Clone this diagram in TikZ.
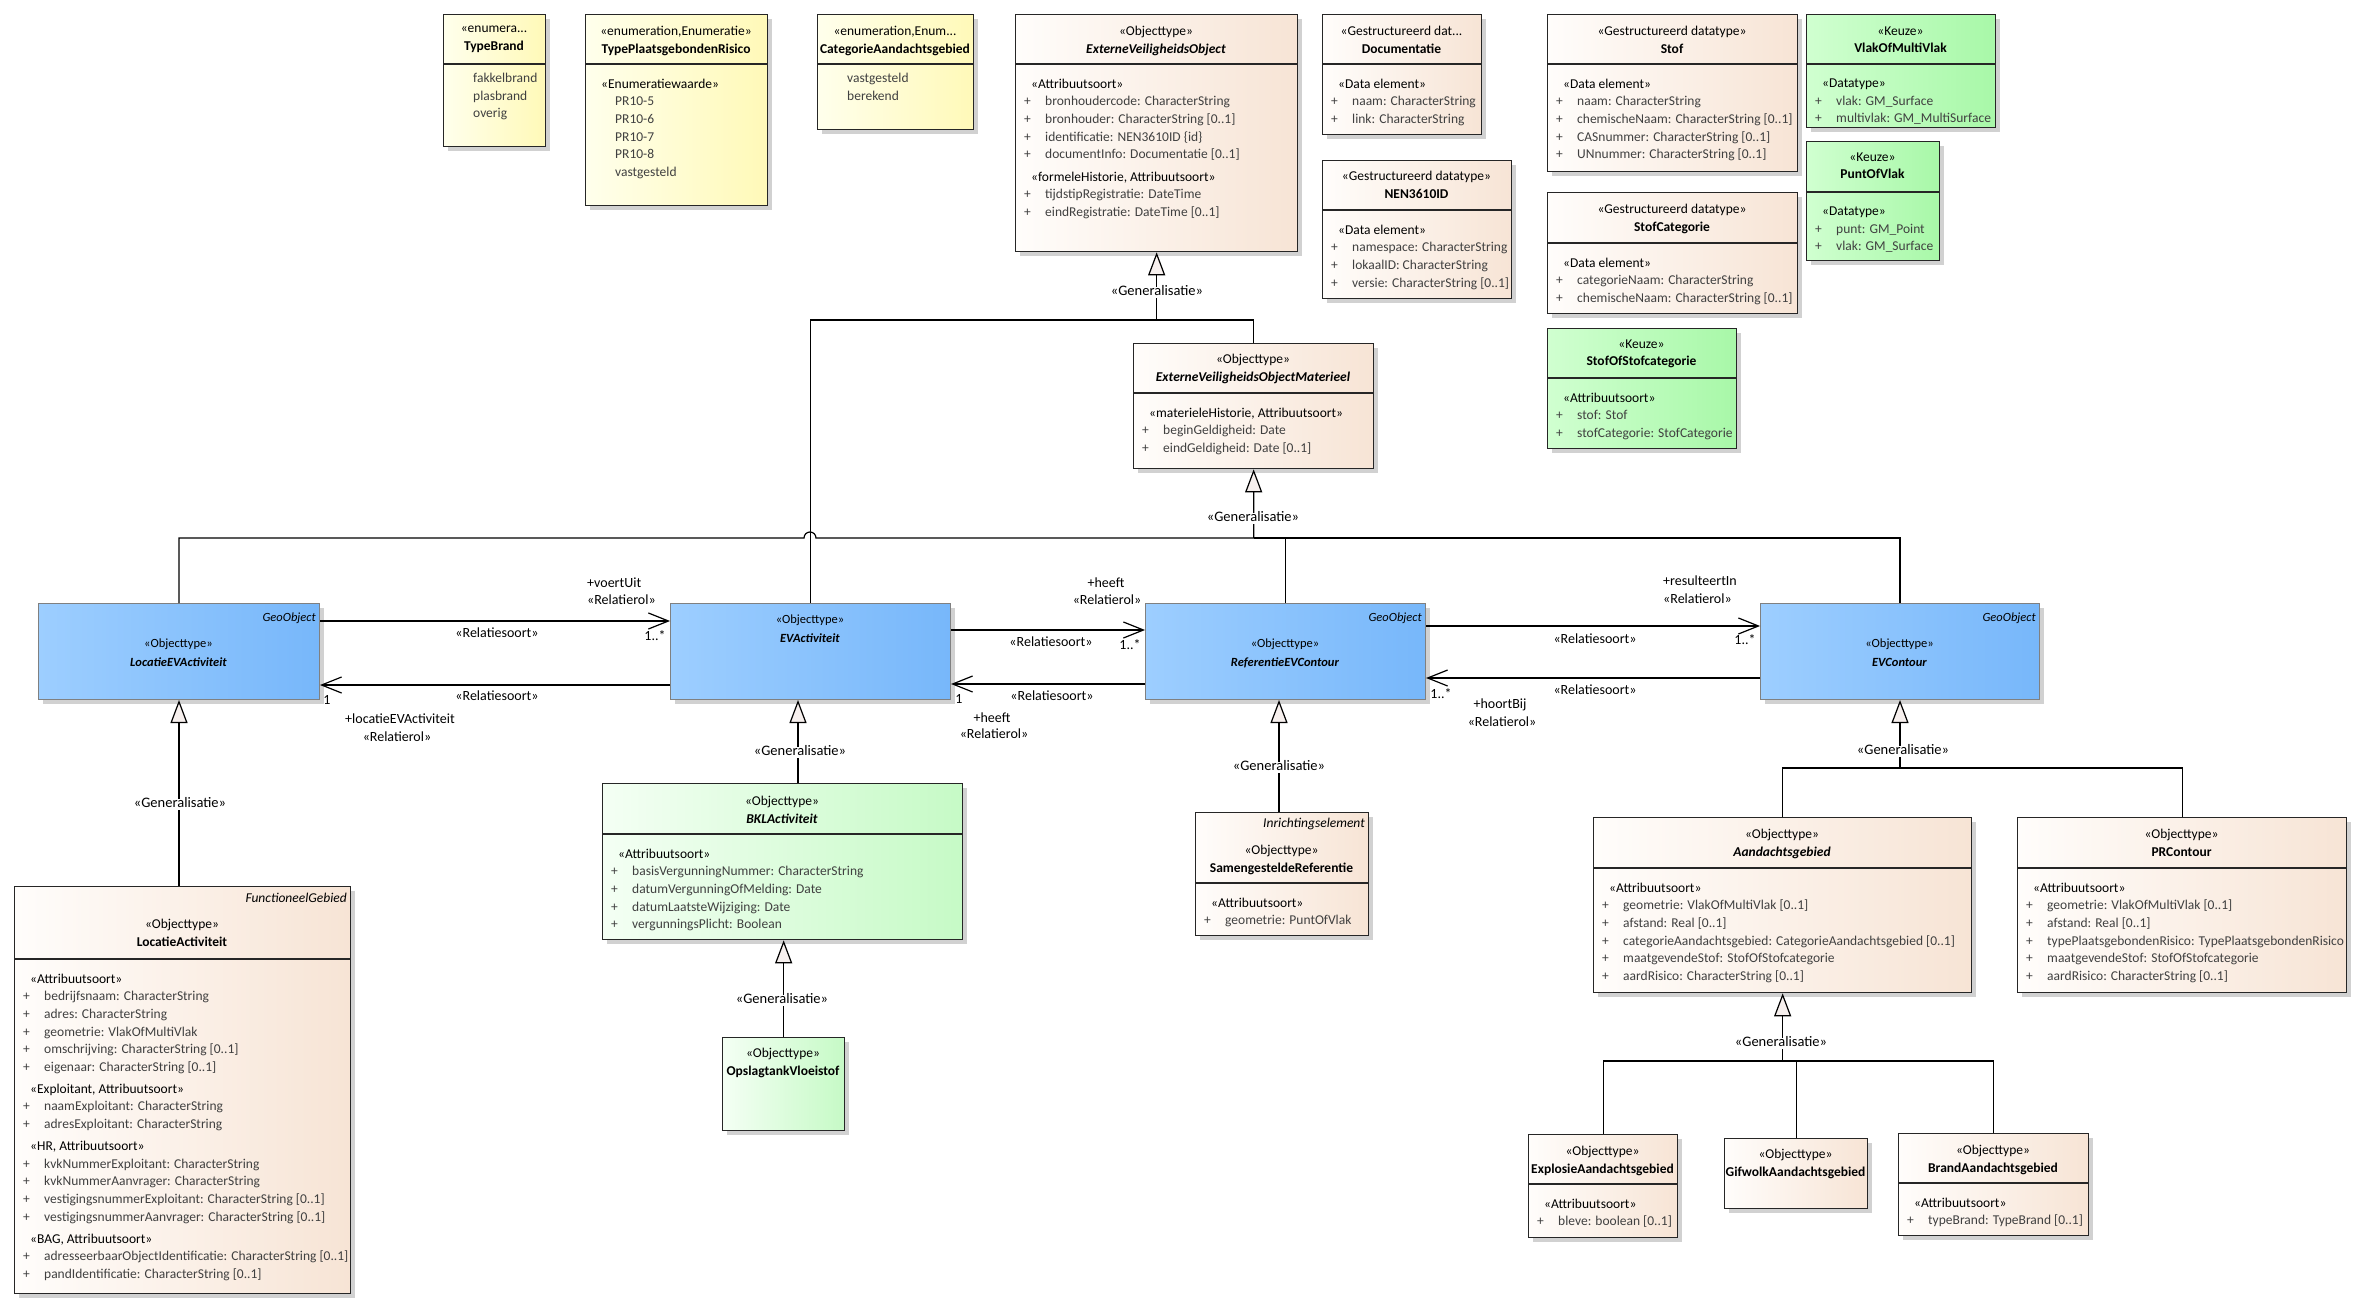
\documentclass[tikz,border=0pt]{standalone}
\usepackage{fontspec}
\setmainfont{Carlito}
\usetikzlibrary{arrows.meta,shadows}

\definecolor{enumL}{RGB}{255,255,236}
\definecolor{enumR}{RGB}{255,249,184}
\definecolor{peachL}{RGB}{255,253,251}
\definecolor{peachR}{RGB}{247,228,213}
\definecolor{keuzeL}{RGB}{208,255,208}
\definecolor{keuzeR}{RGB}{168,248,168}
\definecolor{bklL}{RGB}{244,255,244}
\definecolor{bklR}{RGB}{198,250,198}
\definecolor{blueL}{RGB}{157,206,255}
\definecolor{blueR}{RGB}{119,183,250}
\definecolor{genfill}{RGB}{247,240,238}

\newcommand{\umlfont}{\fontsize{13.5}{17.6}\selectfont}
\newcommand{\geofont}{\fontsize{12.5}{19}\selectfont}
\newcommand{\lblfont}{\fontsize{14}{15}\selectfont}
\newcommand{\genfont}{\fontsize{14.5}{15}\selectfont}
\newcommand{\stp}[1]{\hspace*{7pt}\textcolor{black}{#1}}
\newcommand{\atr}[1]{\makebox[21pt][l]{+}#1}
\newcommand{\lit}[1]{\hspace*{21pt}#1}
\newcommand{\nm}[1]{\textbf{#1}}
\newcommand{\nmi}[1]{\textbf{\textit{#1}}}

\begin{document}
\begin{tikzpicture}[x=1pt, y=-1pt,
    box/.style={draw=black!85, line width=1.3pt, anchor=north west, inner sep=0pt,
        drop shadow={shadow xshift=4pt, shadow yshift=-4pt, fill=black!18, opacity=1}},
    enumbox/.style={box, left color=enumL, right color=enumR},
    peachbox/.style={box, left color=peachL, right color=peachR},
    keuzebox/.style={box, left color=keuzeL, right color=keuzeR},
    bklbox/.style={box, left color=bklL, right color=bklR},
    geobox/.style={box, draw=black!50, line width=1pt, left color=blueL, right color=blueR},
    sep/.style={draw=black!85, line width=1.3pt},
    hdr/.style={inner sep=0pt, anchor=north, align=center, font=\umlfont, yshift=-4.5pt, execute at begin node=\strut},
    geohdr/.style={hdr, font=\geofont},
    tag/.style={inner sep=0pt, anchor=north east, font=\umlfont\itshape, yshift=-1.5pt, execute at begin node=\strut},
    geotag/.style={tag, font=\geofont\itshape},
    body/.style={inner sep=0pt, anchor=north west, align=left, font=\umlfont, text=black!75, yshift=-4.5pt, execute at begin node=\strut},
    lbl/.style={inner sep=0pt, font=\lblfont, text height=8.5pt, text depth=2.5pt},
    genlbl/.style={lbl, font=\genfont, fill=white, inner xsep=1pt},
    conn/.style={line width=1.2pt},
    gen/.style={conn, -{Triangle[length=23pt, width=17pt, fill=genfill]}},
    assoc/.style={conn, -{Straight Barb[length=20pt, width=16pt]}}]
        \useasboundingbox (0,0) rectangle (2371,1313);

        \node[enumbox, minimum width=102pt, minimum height=132pt] (tbrand) at (443,14) {};
        \draw[sep] (tbrand.west |- 0,64) -- (tbrand.east |- 0,64);
        \node[hdr] (tbrand-h) at (494,21.7) {«enumera...\\\nm{TypeBrand}};
        \node[body] (tbrand-b) at (452,68.7) {\lit{fakkelbrand}\\\lit{plasbrand}\\\lit{overig}};

        \node[enumbox, minimum width=182pt, minimum height=191pt] (tpr) at (585,14) {};
        \draw[sep] (tpr.west |- 0,64) -- (tpr.east |- 0,64);
        \node[hdr] (tpr-h) at (676,21.7) {«enumeration,Enumeratie»\\\nm{TypePlaatsgebondenRisico}};
        \node[body] (tpr-b) at (594,74.2) {\stp{«Enumeratiewaarde»}\\\lit{PR10-5}\\\lit{PR10-6}\\\lit{PR10-7}\\\lit{PR10-8}\\\lit{vastgesteld}};

        \node[enumbox, minimum width=156pt, minimum height=115pt] (cag) at (817,14) {};
        \draw[sep] (cag.west |- 0,64) -- (cag.east |- 0,64);
        \node[hdr] (cag-h) at (895,21.7) {«enumeration,Enum...\\\nm{CategorieAandachtsgebied}};
        \node[body] (cag-b) at (826,68.7) {\lit{vastgesteld}\\\lit{berekend}};

        \node[peachbox, minimum width=282pt, minimum height=237pt] (evo) at (1015,14) {};
        \draw[sep] (evo.west |- 0,64) -- (evo.east |- 0,64);
        \node[hdr] (evo-h) at (1156,21.7) {«Objecttype»\\\nmi{ExterneVeiligheidsObject}};
        \node[body] (evo-b) at (1024,74.2) {\stp{«Attribuutsoort»}\\\atr{bronhoudercode: CharacterString}\\\atr{bronhouder: CharacterString [0..1]}\\\atr{identificatie: NEN3610ID \{id\}}\\\atr{documentInfo: Documentatie [0..1]}\\[5pt]\stp{«formeleHistorie, Attribuutsoort»}\\\atr{tijdstipRegistratie: DateTime}\\\atr{eindRegistratie: DateTime [0..1]}};

        \node[peachbox, minimum width=159pt, minimum height=120pt] (doc) at (1322,14) {};
        \draw[sep] (doc.west |- 0,64) -- (doc.east |- 0,64);
        \node[hdr] (doc-h) at (1401.5,21.7) {«Gestructureerd dat...\\\nm{Documentatie}};
        \node[body] (doc-b) at (1331,74.2) {\stp{«Data element»}\\\atr{naam: CharacterString}\\\atr{link: CharacterString}};

        \node[peachbox, minimum width=189pt, minimum height=138pt] (nen) at (1322,160) {};
        \draw[sep] (nen.west |- 0,210) -- (nen.east |- 0,210);
        \node[hdr] (nen-h) at (1416.5,166.7) {«Gestructureerd datatype»\\\nm{NEN3610ID}};
        \node[body] (nen-b) at (1331,220.2) {\stp{«Data element»}\\\atr{namespace: CharacterString}\\\atr{lokaalID: CharacterString}\\\atr{versie: CharacterString [0..1]}};

        \node[peachbox, minimum width=250pt, minimum height=157pt] (stof) at (1547,14) {};
        \draw[sep] (stof.west |- 0,64) -- (stof.east |- 0,64);
        \node[hdr] (stof-h) at (1672,21.7) {«Gestructureerd datatype»\\\nm{Stof}};
        \node[body] (stof-b) at (1556,74.2) {\stp{«Data element»}\\\atr{naam: CharacterString}\\\atr{chemischeNaam: CharacterString [0..1]}\\\atr{CASnummer: CharacterString [0..1]}\\\atr{UNnummer: CharacterString [0..1]}};

        \node[peachbox, minimum width=250pt, minimum height=121pt] (stofcat) at (1547,192) {};
        \draw[sep] (stofcat.west |- 0,243) -- (stofcat.east |- 0,243);
        \node[hdr] (stofcat-h) at (1672,199.7) {«Gestructureerd datatype»\\\nm{StofCategorie}};
        \node[body] (stofcat-b) at (1556,253.2) {\stp{«Data element»}\\\atr{categorieNaam: CharacterString}\\\atr{chemischeNaam: CharacterString [0..1]}};

        \node[keuzebox, minimum width=189pt, minimum height=120pt] (sos) at (1547,328) {};
        \draw[sep] (sos.west |- 0,378) -- (sos.east |- 0,378);
        \node[hdr] (sos-h) at (1641.5,334.7) {«Keuze»\\\nm{StofOfStofcategorie}};
        \node[body] (sos-b) at (1556,388.2) {\stp{«Attribuutsoort»}\\\atr{stof: Stof}\\\atr{stofCategorie: StofCategorie}};

        \node[keuzebox, minimum width=189pt, minimum height=113pt] (vmv) at (1806,14) {};
        \draw[sep] (vmv.west |- 0,64) -- (vmv.east |- 0,64);
        \node[hdr] (vmv-h) at (1900.5,21.7) {«Keuze»\\\nm{VlakOfMultiVlak}};
        \node[body] (vmv-b) at (1815,74.2) {\stp{«Datatype»}\\\atr{vlak: GM\_Surface}\\\atr{multivlak: GM\_MultiSurface}};

        \node[keuzebox, minimum width=133pt, minimum height=119pt] (pov) at (1806,141) {};
        \draw[sep] (pov.west |- 0,192) -- (pov.east |- 0,192);
        \node[hdr] (pov-h) at (1872.5,147.7) {«Keuze»\\\nm{PuntOfVlak}};
        \node[body] (pov-b) at (1815,202.2) {\stp{«Datatype»}\\\atr{punt: GM\_Point}\\\atr{vlak: GM\_Surface}};

        \node[peachbox, minimum width=240pt, minimum height=125pt] (evomat) at (1133,343) {};
        \draw[sep] (evomat.west |- 0,393) -- (evomat.east |- 0,393);
        \node[hdr] (evomat-h) at (1253,349.7) {«Objecttype»\\\nmi{ExterneVeiligheidsObjectMaterieel}};
        \node[body] (evomat-b) at (1142,403.2) {\stp{«materieleHistorie, Attribuutsoort»}\\\atr{beginGeldigheid: Date}\\\atr{eindGeldigheid: Date [0..1]}};

        \node[geobox, minimum width=281pt, minimum height=96pt] (locev) at (38,603) {};
        \node[geotag] (locev-t) at (316,606.4) {GeoObject};
        \node[geohdr] (locev-h) at (178.5,634.4) {«Objecttype»\\\nmi{LocatieEVActiviteit}};

        \node[geobox, minimum width=280pt, minimum height=96pt] (evact) at (670,603) {};
        \node[geohdr] (evact-h) at (810,610.4) {«Objecttype»\\\nmi{EVActiviteit}};

        \node[geobox, minimum width=280pt, minimum height=96pt] (ref) at (1145,603) {};
        \node[geotag] (ref-t) at (1422,606.4) {GeoObject};
        \node[geohdr] (ref-h) at (1285,634.4) {«Objecttype»\\\nmi{ReferentieEVContour}};

        \node[geobox, minimum width=279pt, minimum height=96pt] (evc) at (1760,603) {};
        \node[geotag] (evc-t) at (2036,606.4) {GeoObject};
        \node[geohdr] (evc-h) at (1899.5,634.4) {«Objecttype»\\\nmi{EVContour}};

        \node[peachbox, minimum width=336pt, minimum height=407pt] (locact) at (14,886) {};
        \draw[sep] (locact.west |- 0,959) -- (locact.east |- 0,959);
        \node[tag] (locact-t) at (347,888.7) {FunctioneelGebied};
        \node[hdr] (locact-h) at (182,914.7) {«Objecttype»\\\nm{LocatieActiviteit}};
        \node[body] (locact-b) at (23,969.2) {\stp{«Attribuutsoort»}\\\atr{bedrijfsnaam: CharacterString}\\\atr{adres: CharacterString}\\\atr{geometrie: VlakOfMultiVlak}\\\atr{omschrijving: CharacterString [0..1]}\\\atr{eigenaar: CharacterString [0..1]}\\[4.5pt]\stp{«Exploitant, Attribuutsoort»}\\\atr{naamExploitant: CharacterString}\\\atr{adresExploitant: CharacterString}\\[4.5pt]\stp{«HR, Attribuutsoort»}\\\atr{kvkNummerExploitant: CharacterString}\\\atr{kvkNummerAanvrager: CharacterString}\\\atr{vestigingsnummerExploitant: CharacterString [0..1]}\\\atr{vestigingsnummerAanvrager: CharacterString [0..1]}\\[4.5pt]\stp{«BAG, Attribuutsoort»}\\\atr{adresseerbaarObjectIdentificatie: CharacterString [0..1]}\\\atr{pandIdentificatie: CharacterString [0..1]}};

        \node[bklbox, minimum width=360pt, minimum height=156pt] (bkl) at (602,783) {};
        \draw[sep] (bkl.west |- 0,834) -- (bkl.east |- 0,834);
        \node[hdr] (bkl-h) at (782,791.7) {«Objecttype»\\\nmi{BKLActiviteit}};
        \node[body] (bkl-b) at (611,844.2) {\stp{«Attribuutsoort»}\\\atr{basisVergunningNummer: CharacterString}\\\atr{datumVergunningOfMelding: Date}\\\atr{datumLaatsteWijziging: Date}\\\atr{vergunningsPlicht: Boolean}};

        \node[bklbox, minimum width=122pt, minimum height=93pt] (opslag) at (722,1037) {};
        \node[hdr] (opslag-h) at (783,1043.7) {«Objecttype»\\\nm{OpslagtankVloeistof}};

        \node[peachbox, minimum width=173pt, minimum height=123pt] (samen) at (1195,812) {};
        \draw[sep] (samen.west |- 0,883) -- (samen.east |- 0,883);
        \node[tag] (samen-t) at (1365,813.7) {Inrichtingselement};
        \node[hdr] (samen-h) at (1281.5,840.7) {«Objecttype»\\\nm{SamengesteldeReferentie}};
        \node[body] (samen-b) at (1204,893.2) {\stp{«Attribuutsoort»}\\\atr{geometrie: PuntOfVlak}};

        \node[peachbox, minimum width=378pt, minimum height=175pt] (aand) at (1593,817) {};
        \draw[sep] (aand.west |- 0,868) -- (aand.east |- 0,868);
        \node[hdr] (aand-h) at (1782,824.7) {«Objecttype»\\\nmi{Aandachtsgebied}};
        \node[body] (aand-b) at (1602,878.2) {\stp{«Attribuutsoort»}\\\atr{geometrie: VlakOfMultiVlak [0..1]}\\\atr{afstand: Real [0..1]}\\\atr{categorieAandachtsgebied: CategorieAandachtsgebied [0..1]}\\\atr{maatgevendeStof: StofOfStofcategorie}\\\atr{aardRisico: CharacterString [0..1]}};

        \node[peachbox, minimum width=329pt, minimum height=175pt] (prc) at (2017,817) {};
        \draw[sep] (prc.west |- 0,868) -- (prc.east |- 0,868);
        \node[hdr] (prc-h) at (2181.5,824.7) {«Objecttype»\\\nm{PRContour}};
        \node[body] (prc-b) at (2026,878.2) {\stp{«Attribuutsoort»}\\\atr{geometrie: VlakOfMultiVlak [0..1]}\\\atr{afstand: Real [0..1]}\\\atr{typePlaatsgebondenRisico: TypePlaatsgebondenRisico}\\\atr{maatgevendeStof: StofOfStofcategorie}\\\atr{aardRisico: CharacterString [0..1]}};

        \node[peachbox, minimum width=149pt, minimum height=103pt] (explo) at (1528,1134) {};
        \draw[sep] (explo.west |- 0,1184) -- (explo.east |- 0,1184);
        \node[hdr] (explo-h) at (1602.5,1141.7) {«Objecttype»\\\nm{ExplosieAandachtsgebied}};
        \node[body] (explo-b) at (1537,1194.2) {\stp{«Attribuutsoort»}\\\atr{bleve: boolean [0..1]}};

        \node[peachbox, minimum width=143pt, minimum height=70pt] (gif) at (1724,1138) {};
        \node[hdr] (gif-h) at (1795.5,1144.7) {«Objecttype»\\\nm{GifwolkAandachtsgebied}};

        \node[peachbox, minimum width=190pt, minimum height=102pt] (brand) at (1898,1133) {};
        \draw[sep] (brand.west |- 0,1183) -- (brand.east |- 0,1183);
        \node[hdr] (brand-h) at (1993,1140.7) {«Objecttype»\\\nm{BrandAandachtsgebied}};
        \node[body] (brand-b) at (1907,1193.2) {\stp{«Attribuutsoort»}\\\atr{typeBrand: TypeBrand [0..1]}};

        \draw[gen] (evact.north) |- (evo.south |- 0,320) -- (evo.south);
        \draw[conn] (evomat.north) |- (evo.south |- 0,320);
        \draw[gen] (locev.north) |- (804,538) arc[start angle=180, end angle=360, radius=6] -- (evomat.south |- 0,538) -- (evomat.south);
        \draw[conn] (ref.north) |- (evomat.south |- 0,538);
        \draw[conn] (evc.north) |- (evomat.south |- 0,538);
        \draw[gen] (locact.north -| locev.south) -- (locev.south);
        \draw[gen] (bkl.north -| 798,0) -- (evact.south -| 798,0);
        \draw[gen] (opslag.north) -- (opslag.north |- bkl.south);
        \draw[gen] (samen.north -| 1279,0) -- (ref.south -| 1279,0);
        \draw[gen] (aand.north) |- (evc.south |- 0,768) -- (evc.south);
        \draw[conn] (prc.north) |- (evc.south |- 0,768);
        \draw[gen] (explo.north) |- (aand.south |- 0,1061) -- (aand.south);
        \draw[conn] (gif.north) |- (aand.south |- 0,1061);
        \draw[conn] (brand.north) |- (aand.south |- 0,1061);

        \node[genlbl] (evo-g) at (1157,293) {«Generalisatie»};
        \node[genlbl] (evomat-g) at (1253,518) {«Generalisatie»};
        \node[genlbl] (locev-g) at (180,804) {«Generalisatie»};
        \node[genlbl] (evact-g) at (800,752) {«Generalisatie»};
        \node[genlbl] (ref-g) at (1279,767) {«Generalisatie»};
        \node[genlbl] (evc-g) at (1903,751) {«Generalisatie»};
        \node[genlbl] (bkl-g) at (782,1000) {«Generalisatie»};
        \node[genlbl] (aand-g) at (1781,1043) {«Generalisatie»};

        \draw[assoc] (locev.east |- 0,621) -- (evact.west |- 0,621);
        \draw[assoc] (evact.west |- 0,685) -- (locev.east |- 0,685);
        \draw[assoc] (evact.east |- 0,630) -- (ref.west |- 0,630);
        \draw[assoc] (ref.west |- 0,684) -- (evact.east |- 0,684);
        \draw[assoc] (ref.east |- 0,626) -- (evc.west |- 0,626);
        \draw[assoc] (evc.west |- 0,678) -- (ref.east |- 0,678);

        \node[lbl, anchor=west] (a1-rol) at (587,584) {+voertUit};
        \node[lbl, anchor=west] (a1-st) at (587,601) {«Relatierol»};
        \node[lbl] (a1-soort) at (497,634) {«Relatiesoort»};
        \node[lbl] (a1-mult) at (655,637) {1..*};
        \node[lbl] (a2-soort) at (497,697) {«Relatiesoort»};
        \node[lbl] (a2-mult) at (327,701) {1};
        \node[lbl] (a2-rol) at (400,720) {+locatieEVActiviteit};
        \node[lbl] (a2-st) at (397,738) {«Relatierol»};
        \node[lbl] (a3-rol) at (1106,584) {+heeft};
        \node[lbl] (a3-st) at (1107,601) {«Relatierol»};
        \node[lbl] (a3-soort) at (1051,643) {«Relatiesoort»};
        \node[lbl] (a3-mult) at (1130,646) {1..*};
        \node[lbl] (a4-soort) at (1052,697) {«Relatiesoort»};
        \node[lbl] (a4-mult) at (959,700) {1};
        \node[lbl] (a4-rol) at (992,719) {+heeft};
        \node[lbl] (a4-st) at (994,735) {«Relatierol»};
        \node[lbl, anchor=west] (a5-rol) at (1663,582) {+resulteertIn};
        \node[lbl, anchor=west] (a5-st) at (1663,600) {«Relatierol»};
        \node[lbl] (a5-soort) at (1595,640) {«Relatiesoort»};
        \node[lbl] (a5-mult) at (1745,641) {1..*};
        \node[lbl] (a6-soort) at (1595,691) {«Relatiesoort»};
        \node[lbl] (a6-mult) at (1441,695) {1..*};
        \node[lbl] (a6-rol) at (1500,705) {+hoortBij};
        \node[lbl] (a6-st) at (1502,723) {«Relatierol»};
    \end{tikzpicture}
\end{document}
